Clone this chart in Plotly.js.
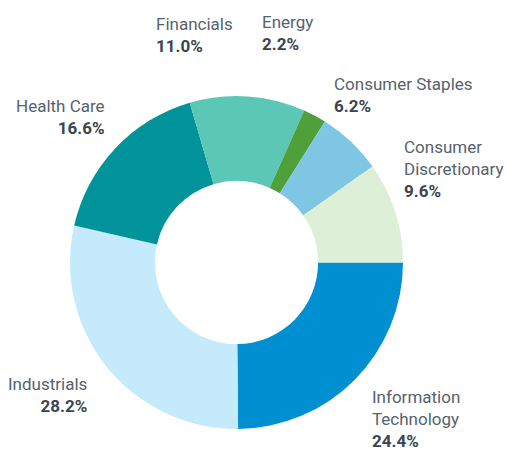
<!DOCTYPE html>
<html>
<head>
<meta charset="utf-8">
<script src="https://cdn.plot.ly/plotly-3.0.1.min.js"></script>
<style>html,body{margin:0;padding:0;background:#fff;}#chart{width:507px;height:450px;}</style>
</head>
<body>
<div id="chart"></div>
<script>
const sectors = ["Information Technology", "Industrials", "Health Care", "Financials", "Energy", "Consumer Staples", "Consumer Discretionary"];
const weights = [24.4, 28.2, 16.6, 11.0, 2.2, 6.2, 9.6];
const colors = ["#008fd0", "#c5eafb", "#00949a", "#5bc7b5", "#4f9f3a", "#7fc6e5", "#ddf0d7"];
const labelLines = [["Information", "Technology"], ["Industrials"], ["Health Care"], ["Financials"], ["Energy"], ["Consumer Staples"], ["Consumer", "Discretionary"]];
// label anchor positions (pixels) and alignment
const labelPos = [[370, 418.5, "left"], [89, 395, "right"], [107, 116.5, "right"], [154, 34.5, "left"], [260, 33, "left"], [332, 95.5, "left"], [402, 168.5, "left"]];

const W = 507, H = 450;
const annotations = sectors.map((s, i) => {
  const [px, py, al] = labelPos[i];
  const txt = labelLines[i].map(l => '<span style="color:#56626c">' + l + '</span>').join('<br>') +
    '<br><b><span style="color:#3a4651">' + weights[i].toFixed(1) + '%</span></b>';
  return {
    x: px / W, y: 1 - py / H, xref: 'paper', yref: 'paper',
    xanchor: al, yanchor: 'middle', align: al, showarrow: false,
    text: txt, font: {family: 'Roboto, sans-serif', size: 17, color: '#56626c'}
  };
});

const cx = 236.5, cy = 262.5, r = 166.5;
Plotly.newPlot('chart', [{
  type: 'pie',
  labels: sectors,
  values: weights,
  hole: 0.49,
  sort: false,
  direction: 'clockwise',
  rotation: 90,
  textinfo: 'none',
  hoverinfo: 'label+percent',
  marker: {colors: colors, line: {width: 0}},
  domain: {x: [(cx - r) / W, (cx + r) / W], y: [(H - cy - r) / H, (H - cy + r) / H]}
}], {
  width: W, height: H,
  margin: {l: 0, r: 0, t: 0, b: 0},
  showlegend: false,
  paper_bgcolor: '#fff',
  annotations: annotations
}, {displayModeBar: false, staticPlot: true});
</script>
</body>
</html>
